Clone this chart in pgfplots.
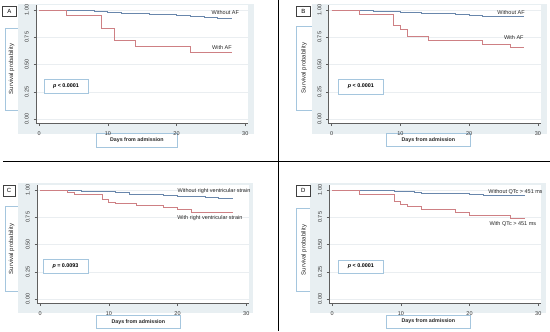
\documentclass[border=0pt]{standalone}
\usepackage{fontspec}
\setmainfont{Liberation Sans}
\usepackage{pgfplots}
\pgfplotsset{compat=1.18}
\definecolor{bgc}{RGB}{232,239,242}
\definecolor{kmblue}{RGB}{105,135,172}
\definecolor{kmred}{RGB}{206,128,132}
\definecolor{boxc}{RGB}{165,198,222}
\definecolor{gridc}{RGB}{234,238,241}
\definecolor{axc}{RGB}{95,95,95}
\newcommand{\fs}{\fontsize{5.5bp}{6.5bp}\selectfont}
\pgfplotsset{
  kmaxis/.style={
    scale only axis, width=212bp, height=119bp, anchor=north west,
    xmin=-0.45, xmax=30.4, ymin=-0.04, ymax=1.05,
    axis x line*=bottom, axis y line*=left,
    axis line style={draw=axc, line width=0.5bp, -},
    xtick={0,10,20,30}, xticklabels={0,10,20,30},
    ytick={0,0.25,0.5,0.75,1},
    yticklabels={0.00,0.25,0.50,0.75,1.00},
    tick align=outside, major tick length=2.5bp,
    tick style={draw=axc, line width=0.5bp},
    ymajorgrids, grid style={draw=gridc, line width=0.5bp},
    axis background/.style={fill=white},
    tick label style={font=\fs, text=black!80, inner sep=0pt},
    yticklabel style={rotate=90, anchor=south},
    yticklabel shift=4.5bp,
    xticklabel shift=5bp,
    every axis plot/.append style={const plot, no marks, line width=0.8bp},
  }
}
\tikzset{
  lblbox/.style={draw=boxc, fill=white, line width=0.5bp},
  pnl/.style={draw=black!75, fill=white, line width=0.6bp},
}
\begin{document}
\begin{tikzpicture}[x=1bp,y=-1bp]
\path[use as bounding box] (0,0) rectangle (550,331);
% y-label boxes (behind gray)
\draw[lblbox] (5,28.3) rectangle (18.5,110);
\draw[lblbox] (296.7,26.7) rectangle (312,110);
\draw[lblbox] (5,206.7) rectangle (18.5,291.7);
\draw[lblbox] (296.7,208) rectangle (311,291.7);
% gray graph regions
\fill[bgc] (17.5,4) rectangle (254,134);
\fill[bgc] (311.5,4) rectangle (547,134);
\fill[bgc] (18,183) rectangle (253,313);
\fill[bgc] (310,183) rectangle (546,313);
% y labels
\foreach \x/\y in {11.5/69, 304/68, 11.5/249, 304/250}
  \node[rotate=90, font=\fontsize{6bp}{7bp}\selectfont, text=black!85, inner sep=0pt] at (\x,\y) {Survival probability};
% x-label boxes
\foreach \a/\b/\c/\d in {96.7/133.3/177/147, 386.7/133.3/470/146.7, 96.7/315/180/328.3, 386.7/315/470/328}{
  \draw[lblbox] (\a,\b) rectangle (\c,\d);
  \node[font=\bfseries\fontsize{5.3bp}{6bp}\selectfont, text=black!85, inner sep=0pt] at ({(\a+\c)/2},{(\b+\d)/2}) {Days from admission};
}

% ---------------- Panel A
\begin{axis}[kmaxis, at={(36bp,-4.5bp)}]
\addplot[kmblue] coordinates {(0,1) (4,0.995) (7,0.992) (8,0.988) (9,0.984) (10,0.979) (11,0.975) (12,0.97) (13,0.965) (16,0.962) (18,0.955) (20,0.951) (21,0.946) (22,0.941) (24,0.936) (25,0.931) (26,0.926) (28,0.926)};
\addplot[kmred] coordinates {(0,1) (4,0.947) (9,0.833) (11,0.722) (14,0.667) (22,0.611) (28,0.611)};
\node[font=\fs, text=black!85] at (axis cs:27.1,0.975) {Without AF};
\node[font=\fs, text=black!85] at (axis cs:26.6,0.654) {With AF};
\end{axis}

% ---------------- Panel B
\begin{axis}[kmaxis, at={(328.6bp,-4.5bp)}]
\addplot[kmblue] coordinates {(0,1) (4,0.993) (6,0.99) (9,0.985) (10,0.982) (12,0.977) (13,0.97) (17,0.966) (18,0.958) (20,0.953) (21,0.948) (22,0.943) (28,0.943)};
\addplot[kmred] coordinates {(0,1) (4,0.96) (9,0.862) (10,0.825) (11,0.761) (14,0.718) (22,0.685) (26,0.654) (28,0.654)};
\node[font=\fs, text=black!85] at (axis cs:26.1,0.978) {Without AF};
\node[font=\fs, text=black!85] at (axis cs:26.5,0.746) {With AF};
\end{axis}

% ---------------- Panel C
\begin{axis}[kmaxis, at={(37bp,-184.5bp)}]
\addplot[kmblue] coordinates {(0,1) (4,0.995) (6,0.99) (9,0.983) (11,0.975) (13,0.962) (14,0.958) (18,0.95) (20,0.945) (22,0.94) (24,0.935) (26,0.927) (28,0.927)};
\addplot[kmred] coordinates {(0,1) (4,0.976) (5,0.957) (9,0.915) (10,0.89) (11,0.875) (14,0.856) (18,0.838) (20,0.824) (22,0.796) (28,0.796)};
\node[font=\fs, text=black!85] at (axis cs:25.3,0.994) {Without right ventricular strain};
\node[font=\fs, text=black!85] at (axis cs:24.7,0.743) {With right ventricular strain};
\end{axis}

% ---------------- Panel D
\begin{axis}[kmaxis, at={(329bp,-184.5bp)}]
\addplot[kmblue] coordinates {(0,1) (4,0.995) (9,0.985) (12,0.978) (13,0.972) (18,0.968) (20,0.96) (22,0.948) (28,0.948)};
\addplot[kmred] coordinates {(0,1) (4,0.955) (9,0.893) (10,0.872) (11,0.847) (13,0.826) (18,0.796) (20,0.771) (26,0.741) (28,0.741)};
\node[font=\fs, text=black!85] at (axis cs:26.7,0.985) {Without QTc > 451 ms};
\node[font=\fs, text=black!85] at (axis cs:26.3,0.686) {With QTc > 451 ms};
\end{axis}

% p-value boxes
\foreach \a/\b/\c/\d/\t in {44/79/88/93/<\ 0.0001, 338.3/79.3/383.3/94/<\ 0.0001, 43/259/88/273/=\ 0.0093, 338.3/260/383.3/273/<\ 0.0001}{
  \draw[lblbox] (\a,\b) rectangle (\c,\d);
  \node[font=\bfseries\fontsize{5.4bp}{6bp}\selectfont, inner sep=0pt] at ({(\a+\c)/2},{(\b+\d)/2}) {\textit{p} \t};
}
% panel letters
\foreach \a/\b/\c/\d/\t in {2.7/6/16/16/A, 296.7/6/310/16/B, 3.3/185/15/196.7/C, 296.7/185/310/196.7/D}{
  \draw[pnl] (\a,\b) rectangle (\c,\d);
  \node[font=\fontsize{6bp}{7bp}\selectfont, inner sep=0pt] at ({(\a+\c)/2},{(\b+\d)/2}) {\t};
}
% dividers
\draw[black, line width=1.3bp] (3,161.7) -- (550,161.7);
\draw[black, line width=0.9bp] (278,0) -- (278,161.7);
\draw[black, line width=0.9bp] (278.8,161.7) -- (278.8,331);
\end{tikzpicture}
\end{document}
